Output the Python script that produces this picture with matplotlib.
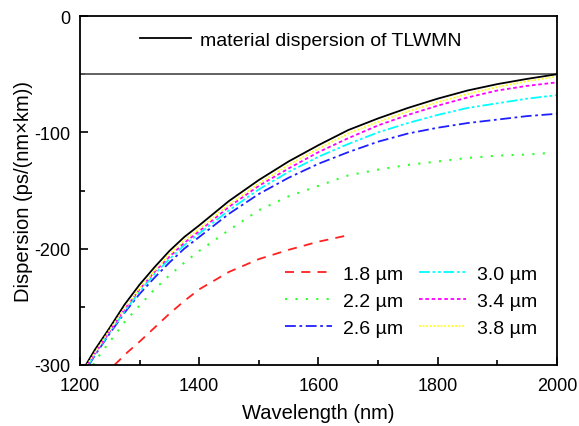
import matplotlib
matplotlib.use("Agg")
import matplotlib.pyplot as plt
from matplotlib.ticker import MultipleLocator

plt.rcParams['font.family'] = ['Liberation Sans', 'DejaVu Sans']
plt.rcParams['font.size'] = 13
plt.rcParams['axes.unicode_minus'] = False

# material dispersion of TLWMN
wl_mat = [1210, 1225, 1250, 1275, 1300, 1325, 1350, 1375, 1400, 1450, 1500, 1550, 1600, 1650, 1700, 1750, 1800, 1850, 1900, 1950, 2000]
d_mat = [-300, -287, -268, -248, -231, -216, -202, -190, -180, -159, -141, -125, -111, -98, -88, -79, -71, -64, -58.5, -54, -50]

# fibre core diameters
wl_18 = [1258, 1280, 1300, 1325, 1350, 1375, 1400, 1450, 1500, 1550, 1600, 1645]
d_18 = [-300, -289, -280, -268, -256, -245, -235, -220, -209, -201, -194, -189]

wl_22 = [1222, 1235, 1250, 1275, 1300, 1325, 1350, 1375, 1400, 1450, 1500, 1550, 1600, 1650, 1700, 1750, 1800, 1850, 1900, 1950, 1980]
d_22 = [-300, -290, -280, -263, -249, -235, -223, -212, -202, -184, -167, -155, -146, -137, -132, -128, -125, -122, -120, -119, -118]

wl_26 = [1215, 1230, 1250, 1275, 1300, 1325, 1350, 1375, 1400, 1450, 1500, 1550, 1600, 1650, 1700, 1750, 1800, 1850, 1900, 1950, 2000]
d_26 = [-300, -288, -273, -255, -239, -225, -212, -200, -190, -170, -153, -139, -127, -117, -108, -101, -96, -92, -89, -86, -84]

wl_30 = [1214, 1229, 1250, 1275, 1300, 1325, 1350, 1375, 1400, 1450, 1500, 1550, 1600, 1650, 1700, 1750, 1800, 1850, 1900, 1950, 2000]
d_30 = [-300, -288, -272, -254, -237, -222, -209, -197, -187, -167, -149, -134, -121, -110, -100, -92, -85, -79, -75, -71, -68]

wl_34 = [1213, 1228, 1250, 1275, 1300, 1325, 1350, 1375, 1400, 1450, 1500, 1550, 1600, 1650, 1700, 1750, 1800, 1850, 1900, 1950, 2000]
d_34 = [-300, -288, -271, -252, -235, -220, -207, -195, -185, -164, -146, -131, -117, -105, -94, -85, -77, -70, -64, -60, -57]

wl_38 = [1212, 1227, 1250, 1275, 1300, 1325, 1350, 1375, 1400, 1450, 1500, 1550, 1600, 1650, 1700, 1750, 1800, 1850, 1900, 1950, 2000]
d_38 = [-300, -288, -270, -251, -234, -219, -205, -193, -183, -162, -144, -128, -114, -101, -91, -82, -74, -67, -61, -56, -52]

fig = plt.figure(figsize=(5.79, 4.27), dpi=100)
ax = fig.add_axes([0.138, 0.143, 0.824, 0.817])

ax.axhline(-50, color='#555555', lw=1.3)
mat_line, = ax.plot(wl_mat, d_mat, color='black', lw=1.3, label='material dispersion of TLWMN')

h18, = ax.plot(wl_18, d_18, color='#ff2020', lw=1.3, ls=(0, (5, 4)), label='1.8 µm')
h22, = ax.plot(wl_22, d_22, color='#30ff30', lw=1.5, ls=(0, (1, 4)), label='2.2 µm')
h26, = ax.plot(wl_26, d_26, color='#2020ff', lw=1.3, ls=(0, (6, 2, 1.5, 2)), label='2.6 µm')
h30, = ax.plot(wl_30, d_30, color='cyan', lw=1.3, ls=(0, (6, 1.5, 1.5, 1.5, 1.5, 1.5)), label='3.0 µm')
h34, = ax.plot(wl_34, d_34, color='magenta', lw=1.3, ls=(0, (2, 1.5)), label='3.4 µm')
h38, = ax.plot(wl_38, d_38, color='#ffff20', lw=1.3, ls=(0, (1, 1)), label='3.8 µm')

ax.set_xlim(1200, 2000)
ax.set_ylim(-300, 0)
ax.xaxis.set_major_locator(MultipleLocator(200))
ax.xaxis.set_minor_locator(MultipleLocator(100))
ax.yaxis.set_major_locator(MultipleLocator(100))
ax.yaxis.set_minor_locator(MultipleLocator(50))
ax.tick_params(which='both', direction='in', top=False, right=False, width=1.2)
ax.tick_params(axis='x', which='major', length=6, pad=9)
ax.tick_params(axis='y', which='major', length=6, pad=7)
ax.tick_params(which='minor', length=3.5)
for s in ax.spines.values():
    s.set_linewidth(1.3)

ax.set_xlabel('Wavelength (nm)', fontsize=14.5, labelpad=6)
ax.set_ylabel('Dispersion (ps/(nm×km))', fontsize=14.5, labelpad=1)

leg1 = ax.legend(handles=[mat_line], loc='center left', bbox_to_anchor=(0.126, 0.931),
                 frameon=False, handlelength=2.6, handletextpad=0.5,
                 borderpad=0, borderaxespad=0, fontsize=14)
ax.add_artist(leg1)
ax.legend(handles=[h18, h22, h26, h30, h34, h38], ncol=2, loc='center left',
          bbox_to_anchor=(0.43, 0.183), frameon=False, handlelength=2.4,
          handletextpad=0.6, columnspacing=0.8, labelspacing=0.5,
          borderpad=0, borderaxespad=0, fontsize=14)

fig.savefig('out.png', dpi=100)
